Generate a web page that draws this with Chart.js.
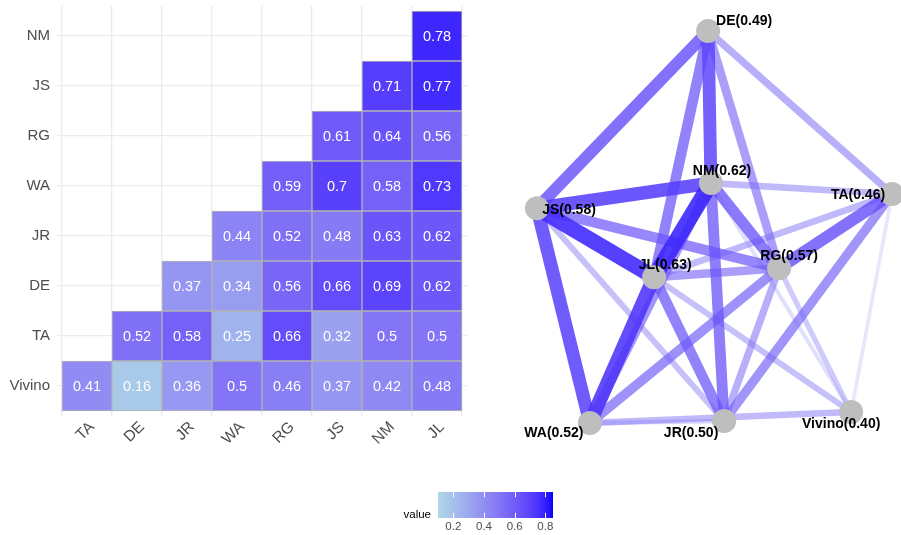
<!DOCTYPE html>
<html><head><meta charset="utf-8">
<script src="https://cdn.jsdelivr.net/npm/chart.js@4.4.0/dist/chart.umd.min.js"></script>
<style>
html,body{margin:0;padding:0;background:#fff;}
#wrap{position:relative;width:901px;height:535px;overflow:hidden;background:#fff;}
canvas{position:absolute;}
</style></head><body>
<div id="wrap">
<canvas id="heat" width="480" height="470" style="left:0;top:0;width:480px;height:470px"></canvas>
<canvas id="net" width="411" height="470" style="left:490px;top:0;width:411px;height:470px"></canvas>
<canvas id="leg" width="200" height="57" style="left:380px;top:478px;width:200px;height:57px"></canvas>
</div>
<script>
// ---------------- DATA ----------------
const xCategories = ['TA', 'DE', 'JR', 'WA', 'RG', 'JS', 'NM', 'JL'];
const yCategories = ['Vivino', 'TA', 'DE', 'JR', 'WA', 'RG', 'JS', 'NM'];
// one row per y category (bottom to top), values aligned with xCategories
const rowVivino = [0.41, 0.16, 0.36, 0.5, 0.46, 0.37, 0.42, 0.48];
const rowTA     = [null, 0.52, 0.58, 0.25, 0.66, 0.32, 0.5, 0.5];
const rowDE     = [null, null, 0.37, 0.34, 0.56, 0.66, 0.69, 0.62];
const rowJR     = [null, null, null, 0.44, 0.52, 0.48, 0.63, 0.62];
const rowWA     = [null, null, null, null, 0.59, 0.7, 0.58, 0.73];
const rowRG     = [null, null, null, null, null, 0.61, 0.64, 0.56];
const rowJS     = [null, null, null, null, null, null, 0.71, 0.77];
const rowNM     = [null, null, null, null, null, null, null, 0.78];
const heatRows = [rowVivino, rowTA, rowDE, rowJR, rowWA, rowRG, rowJS, rowNM];

// network nodes: names, mean scores shown in labels, layout coordinates
const nodeNames  = ['DE', 'NM', 'JS', 'TA', 'JL', 'RG', 'WA', 'JR', 'Vivino'];
const nodeScores = [0.49, 0.62, 0.58, 0.46, 0.63, 0.57, 0.52, 0.50, 0.40];
const nodeX      = [0.482, 0.490, 0.000, 1.000, 0.330, 0.682, 0.149, 0.527, 0.885];
const nodeY      = [1.000, 0.612, 0.548, 0.584, 0.372, 0.395, 0.000, 0.005, 0.028];

// colour scale
const scaleLimits = [0.1, 0.85];
const legendTicks = [0.2, 0.4, 0.6, 0.8];

// ---------------- STYLE ----------------
const FONT = "'Liberation Sans', Arial, Helvetica, sans-serif";
Chart.defaults.font.family = FONT;
const lowColor = [173, 216, 230];  // lightblue
const highColor = [0, 0, 255];     // blue
const labelOffsets = {DE:[36,-10], NM:[11,-12], JS:[32,2], TA:[-34,1], JL:[11,-12], RG:[10,-12], WA:[-36,10], JR:[-33,12], Vivino:[-10,12]};

// Lab interpolation (like ggplot's gradient)
function lin(c){ c/=255; return c<=0.04045 ? c/12.92 : Math.pow((c+0.055)/1.055, 2.4); }
function unlin(c){ c = c<=0.0031308 ? 12.92*c : 1.055*Math.pow(c,1/2.4)-0.055; return Math.max(0, Math.min(255, Math.round(c*255))); }
function rgb2lab(rgb){
  const R=lin(rgb[0]), G=lin(rgb[1]), B=lin(rgb[2]);
  let X=(0.4124*R+0.3576*G+0.1805*B)/0.95047, Y=(0.2126*R+0.7152*G+0.0722*B), Z=(0.0193*R+0.1192*G+0.9505*B)/1.08883;
  const f=t=>t>0.008856?Math.cbrt(t):7.787*t+16/116;
  const fx=f(X), fy=f(Y), fz=f(Z);
  return [116*fy-16, 500*(fx-fy), 200*(fy-fz)];
}
function lab2rgb(lab){
  const fy=(lab[0]+16)/116, fx=fy+lab[1]/500, fz=fy-lab[2]/200;
  const fi=t=>{const t3=t*t*t; return t3>0.008856?t3:(t-16/116)/7.787;};
  const X=fi(fx)*0.95047, Y=fi(fy), Z=fi(fz)*1.08883;
  const R= 3.2406*X-1.5372*Y-0.4986*Z, G=-0.9689*X+1.8758*Y+0.0415*Z, B=0.0557*X-0.2040*Y+1.0570*Z;
  return [unlin(R), unlin(G), unlin(B)];
}
const labLow = rgb2lab(lowColor), labHigh = rgb2lab(highColor);
function colorFor(v){
  let t=(v-scaleLimits[0])/(scaleLimits[1]-scaleLimits[0]); t=Math.max(0,Math.min(1,t));
  return lab2rgb([0,1,2].map(i=>labLow[i]+(labHigh[i]-labLow[i])*t));
}
function rgba(c,a){ return 'rgba('+c[0]+','+c[1]+','+c[2]+','+(a==null?1:a)+')'; }
function edgeWidth(r){ return Math.max(0,(r-0.3)*33); }
function edgeAlpha(r){ const t=Math.max(0,Math.min(1,(r-0.39)/0.38)); return Math.min(0.9, 0.95*Math.sqrt(t)); }

// ---------------- HEATMAP ----------------
const heatDatasets = yCategories.map((rowName, ri) => ({
  label: rowName,
  data: heatRows[ri].map((v, ci) => v == null ? null : {x: ci + 1, y: [ri + 0.5, ri + 1.5], v: v}).filter(d => d),
  backgroundColor: ctx => ctx.raw ? rgba(colorFor(ctx.raw.v)) : 'transparent',
  borderColor: '#B3B3B3',
  borderWidth: 1,
  borderSkipped: false,
  barPercentage: 1,
  categoryPercentage: 1,
  grouped: false
}));

const cellTextPlugin = {
  id: 'cellText',
  afterDatasetsDraw(chart){
    const ctx = chart.ctx;
    ctx.save();
    ctx.fillStyle = '#FFFFFF';
    ctx.font = '14.5px ' + FONT;
    ctx.textAlign = 'center';
    ctx.textBaseline = 'middle';
    chart.data.datasets.forEach((ds, di) => {
      chart.getDatasetMeta(di).data.forEach((el, i) => {
        ctx.fillText(String(ds.data[i].v), el.x, (el.y + el.base) / 2 + 1);
      });
    });
    ctx.restore();
  }
};

new Chart(document.getElementById('heat'), {
  type: 'bar',
  data: { datasets: heatDatasets },
  plugins: [cellTextPlugin],
  options: {
    responsive: false, animation: false, events: [],
    layout: { padding: { left: 0, right: 13, top: 6, bottom: 0 }, autoPadding: false },
    plugins: { legend: { display: false }, tooltip: { enabled: false } },
    scales: {
      x: {
        type: 'linear', min: 0.4, max: 8.6, offset: false,
        afterBuildTicks: s => { s.ticks = xCategories.map((_, i) => ({ value: i + 1 })); },
        afterFit: s => { s.height = 54; s.paddingLeft = 0; s.paddingRight = 0; },
        ticks: { callback: (v, i) => xCategories[i], autoSkip: false, minRotation: 45, maxRotation: 45, color: '#4D4D4D', font: { size: 15.5 }, padding: 2, labelOffset: 5 },
        grid: { color: '#EBEBEB', lineWidth: 1.3, drawTicks: false },
        border: { display: false }
      },
      y: {
        type: 'linear', min: 0.4, max: 8.6,
        afterBuildTicks: s => { s.ticks = yCategories.map((_, i) => ({ value: i + 1 })); },
        afterFit: s => { s.width = 57; s.paddingTop = 0; s.paddingBottom = 0; },
        ticks: { callback: (v, i) => yCategories[i], autoSkip: false, color: '#4D4D4D', font: { size: 15 }, padding: 7 },
        grid: { color: '#EBEBEB', lineWidth: 1.3, drawTicks: false },
        border: { display: false }
      }
    }
  }
});

// ---------------- NETWORK ----------------
const edges = [];
yCategories.forEach((rowName, ri) => {
  heatRows[ri].forEach((v, ci) => {
    if (v == null) return;
    edges.push({ a: rowName, b: xCategories[ci], r: v });
  });
});
// nodes on top (order 0), stronger edges drawn above weaker ones
const netDatasets = [{
  data: nodeNames.map((n, i) => ({ x: nodeX[i], y: nodeY[i] })),
  showLine: false, pointRadius: 12, pointBackgroundColor: '#BEBEBE', pointBorderWidth: 0,
  clip: false, order: 0
}];
edges.filter(e => edgeWidth(e.r) > 0 && edgeAlpha(e.r) > 0).forEach(e => {
  const ia = nodeNames.indexOf(e.a), ib = nodeNames.indexOf(e.b);
  netDatasets.push({
    data: [{ x: nodeX[ia], y: nodeY[ia] }, { x: nodeX[ib], y: nodeY[ib] }],
    showLine: true, pointRadius: 0,
    borderColor: rgba(colorFor(e.r), edgeAlpha(e.r)),
    borderWidth: edgeWidth(e.r),
    borderCapStyle: 'butt',
    clip: false,
    order: 1 + (1 - e.r)
  });
});

const nodeLabelPlugin = {
  id: 'nodeLabels',
  afterDatasetsDraw(chart){
    const ctx = chart.ctx;
    const xs = chart.scales.x, ys = chart.scales.y;
    ctx.save();
    ctx.fillStyle = '#000000';
    ctx.font = 'bold 14px ' + FONT;
    ctx.textAlign = 'center';
    ctx.textBaseline = 'middle';
    nodeNames.forEach((n, i) => {
      const off = labelOffsets[n];
      ctx.fillText(n + '(' + nodeScores[i].toFixed(2) + ')', xs.getPixelForValue(nodeX[i]) + off[0], ys.getPixelForValue(nodeY[i]) + off[1]);
    });
    ctx.restore();
  }
};

new Chart(document.getElementById('net'), {
  type: 'scatter',
  data: { datasets: netDatasets },
  plugins: [nodeLabelPlugin],
  options: {
    responsive: false, animation: false, events: [],
    layout: { padding: 0, autoPadding: false },
    plugins: { legend: { display: false }, tooltip: { enabled: false } },
    scales: {
      x: { type: 'linear', display: false, min: -0.1324, max: 1.0254 },
      y: { type: 'linear', display: false, min: -0.1199, max: 1.0791 }
    }
  }
});

// ---------------- LEGEND ----------------
const legendPlugin = {
  id: 'legendDeco',
  afterDatasetsDraw(chart){
    const ctx = chart.ctx, xs = chart.scales.x, a = chart.chartArea;
    ctx.save();
    ctx.strokeStyle = '#FFFFFF';
    ctx.lineWidth = 1;
    const tl = (a.bottom - a.top) / 5;
    legendTicks.forEach(v => {
      const x = Math.round(xs.getPixelForValue(v)) + 0.5;
      ctx.beginPath();
      ctx.moveTo(x, a.top); ctx.lineTo(x, a.top + tl);
      ctx.moveTo(x, a.bottom - tl); ctx.lineTo(x, a.bottom);
      ctx.stroke();
    });
    ctx.fillStyle = '#000000';
    ctx.font = '11.5px ' + FONT;
    ctx.textAlign = 'right';
    ctx.textBaseline = 'middle';
    ctx.fillText('value', a.left - 7, a.bottom - 3);
    ctx.restore();
  }
};

new Chart(document.getElementById('leg'), {
  type: 'bar',
  data: { labels: ['value'], datasets: [{
    data: [[scaleLimits[0], scaleLimits[1]]],
    backgroundColor: ctx => {
      const chart = ctx.chart, area = chart.chartArea;
      if (!area) return '#8080ff';
      const xs = chart.scales.x;
      const x0 = xs.getPixelForValue(scaleLimits[0]), x1 = xs.getPixelForValue(scaleLimits[1]);
      const g = chart.ctx.createLinearGradient(x0, 0, x1, 0);
      for (let k = 0; k <= 30; k++) {
        const t = k / 30;
        g.addColorStop(t, rgba(colorFor(scaleLimits[0] + t * (scaleLimits[1] - scaleLimits[0]))));
      }
      return g;
    },
    borderWidth: 0, barPercentage: 1, categoryPercentage: 1
  }]},
  plugins: [legendPlugin],
  options: {
    indexAxis: 'y', responsive: false, animation: false, events: [],
    layout: { padding: { left: 58, right: 27, top: 14, bottom: 0 }, autoPadding: false },
    plugins: { legend: { display: false }, tooltip: { enabled: false } },
    scales: {
      x: {
        type: 'linear', min: scaleLimits[0], max: scaleLimits[1],
        afterBuildTicks: s => { s.ticks = legendTicks.map(v => ({ value: v })); },
        afterFit: s => { s.height = 17; s.paddingLeft = 0; s.paddingRight = 0; },
        ticks: { callback: v => v.toFixed(1), color: '#4D4D4D', font: { size: 11.5 }, padding: 2, maxRotation: 0 },
        grid: { display: false, drawTicks: false }, border: { display: false }
      },
      y: { display: false }
    }
  }
});
</script>
</body></html>
